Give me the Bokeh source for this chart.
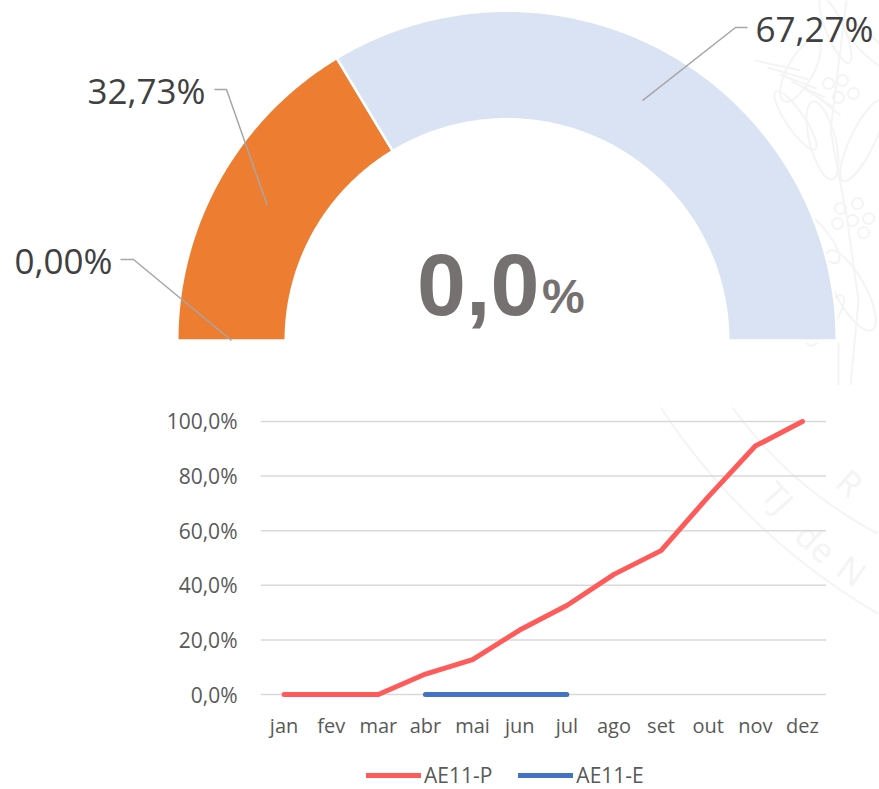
from bokeh.plotting import figure
from bokeh.models import Range1d, Legend, LegendItem, FixedTicker, CustomJSTickFormatter, HTMLLabel
from bokeh.core.properties import value
from bokeh.embed import file_html
from bokeh.resources import INLINE
import math

months = ["jan","fev","mar","abr","mai","jun","jul","ago","set","out","nov","dez"]
planned = [0, 0, 0, 7.5, 12.8, 23.6, 32.6, 44, 52.7, 72.4, 91, 100]
executed = [0, 0, 0, 0]
executed_months = ["abr", "mai", "jun", "jul"]
gauge_values = [0.0, 32.73, 67.27]
gauge_colors = ["#4472C4", "#ED7D31", "#DAE3F3"]
yticks = [0, 20, 40, 60, 80, 100]
FONT = "Open Sans"
W, H1, H2, H3 = 879, 385, 365, 39
WM = "#F4F4F4"

# ---- gauge (pixel-like coordinates: y measured from page top)
top = figure(width=W, height=H1, output_backend="svg", toolbar_location=None,
             x_range=Range1d(0, W), y_range=Range1d(H1, 0),
             min_border=0, outline_line_color=None)
top.axis.visible = False
top.grid.visible = False

# faint seal watermark, upper right
wm_leaves = [(800, 70, 26, 70, -0.5), (822, 140, 26, 80, 0.25), (862, 140, 24, 90, -0.45),
             (815, 235, 22, 70, 0.7), (850, 290, 30, 90, 0.5), (795, 120, 18, 70, 0.6),
             (835, 30, 18, 70, 0.4), (868, 45, 18, 70, 0.8), (825, 320, 18, 60, -0.6)]
for x, y, w, h, ang in wm_leaves:
    top.ellipse([x], [y], width=w, height=h, angle=ang, fill_color=None, line_color=WM, line_width=2)
wm_berries = [(828, 83), (838, 97), (853, 93), (842, 80), (840, 208), (857, 203),
              (868, 218), (852, 220), (837, 223), (863, 232)]
top.scatter([b[0] for b in wm_berries], [b[1] for b in wm_berries], size=11, fill_color=None,
            line_color=WM, line_width=2)
for k in range(6):
    top.line([755 + 12 * k, 800 + 8 * k], [60 + 7 * k, 70 + 9 * k], line_color=WM, line_width=2)
top.line([846, 830, 846, 858, 850], [0, 130, 215, 300, 385], line_color=WM, line_width=2)
top.line([838, 838], [340, 385], line_color=WM, line_width=2)

cx, cy, R_out, R_in = 506.5, 340.0, 329.75, 221.25
R_mid = (R_out + R_in) / 2
cum = 0.0
anchors = []
for v, c in zip(gauge_values, gauge_colors):
    a0 = cum / 100 * math.pi
    a1 = (cum + v) / 100 * math.pi
    mid = (a0 + a1) / 2
    anchors.append((cx - R_mid * math.cos(mid), cy - R_mid * math.sin(mid)))
    if v > 0:
        n = 160
        th = [a0 + (a1 - a0) * i / n for i in range(n + 1)]
        xs = [cx - R_out * math.cos(t) for t in th] + [cx - R_in * math.cos(t) for t in reversed(th)]
        ys = [cy - R_out * math.sin(t) for t in th] + [cy - R_in * math.sin(t) for t in reversed(th)]
        top.patch(xs, ys, fill_color=c, line_color="white", line_width=2.5)
    cum += v
# re-cover the flat ends of the arc's stroke
top.line([cx - R_out - 3, cx + R_out + 3], [cy + 1.3, cy + 1.3], line_color="white", line_width=2.6)

elbows = [((133, 259), (120, 259), 112, 260, "right"),
          ((226, 89), (214, 89), 205, 90, "right"),
          ((735, 27), (747, 27), 755, 28, "left")]
for v, (ax, ay), (e1, e2, tx, ty, al) in zip(gauge_values, anchors, elbows):
    top.line([ax, e1[0], e2[0]], [ay, e1[1], e2[1]], line_color="#A6A6A6", line_width=1.5)
    top.text([tx], [ty], text=[f"{v:.2f}%".replace(".", ",")], text_font=value(FONT),
             text_font_size="35px", text_color="#404040", text_align=al, text_baseline="middle")

top.add_layout(HTMLLabel(x=417, y=285, text="0,0", text_font=FONT, text_font_style="bold",
                         text_font_size="88px", text_color="#767171", text_align="left", text_baseline="middle"))
top.add_layout(HTMLLabel(x=542, y=296, text="%", text_font=FONT, text_font_style="bold",
                         text_font_size="48px", text_color="#767171", text_align="left", text_baseline="middle"))

# ---- line chart
STEP = 47.17
xi = {m: i for i, m in enumerate(months)}
pad = 5.128
bot = figure(width=W, height=H2, output_backend="svg", toolbar_location=None,
             x_range=Range1d(-0.5, (879 - 283) / STEP),
             y_range=Range1d(-pad, 100 + pad),
             min_border_left=260, min_border_right=0, min_border_top=22, min_border_bottom=42,
             outline_line_color=None)

# faint seal watermark, lower right (ribbon + lettering)
px = lambda x: -0.5 + (x - 260) / STEP
py = lambda y: (694 - y) / 2.73
def arc3(p1, p2, p3, n=40):
    (ax_, ay_), (bx_, by_), (cx_, cy_) = p1, p2, p3
    d = 2 * (ax_ * (by_ - cy_) + bx_ * (cy_ - ay_) + cx_ * (ay_ - by_))
    ux = ((ax_**2 + ay_**2) * (by_ - cy_) + (bx_**2 + by_**2) * (cy_ - ay_) + (cx_**2 + cy_**2) * (ay_ - by_)) / d
    uy = ((ax_**2 + ay_**2) * (cx_ - bx_) + (bx_**2 + by_**2) * (ax_ - cx_) + (cx_**2 + cy_**2) * (bx_ - ax_)) / d
    r = math.hypot(ax_ - ux, ay_ - uy)
    t0, t1 = math.atan2(ay_ - uy, ax_ - ux), math.atan2(cy_ - uy, cx_ - ux)
    ts = [t0 + (t1 - t0) * i / n for i in range(n + 1)]
    return [ux + r * math.cos(t) for t in ts], [uy + r * math.sin(t) for t in ts]
for pts in [((658, 403), (773, 537), (878, 613)), ((723, 393), (803, 483), (878, 533))]:
    ax_, ay_ = arc3(*pts)
    bot.line([px(a) for a in ax_], [py(a) for a in ay_], line_color=WM, line_width=2)
wm_letters = [("TJ", 778, 497, -48), ("de", 816, 542, -42), ("N", 852, 570, -35), ("R", 850, 482, -42)]
for t, x, y, d in wm_letters:
    bot.text([px(x)], [py(y)], text=[t], angle=[math.radians(d)], text_font=value(FONT),
             text_font_size="34px", text_color=WM,
             text_align="center", text_baseline="middle")

bot.xgrid.visible = False
bot.ygrid.visible = False
bot.segment([-0.5] * len(yticks), yticks, [11.5] * len(yticks), yticks,
            line_color="#D9D9D9", line_width=1.5)
bot.xaxis.ticker = FixedTicker(ticks=list(range(len(months))))
bot.xaxis.major_label_overrides = {i: m for i, m in enumerate(months)}
bot.yaxis.ticker = FixedTicker(ticks=yticks)
bot.yaxis.formatter = CustomJSTickFormatter(code="return tick.toFixed(1).replace('.', ',') + '%';")
for ax in (bot.xaxis[0], bot.yaxis[0]):
    ax.axis_line_color = None
    ax.major_tick_line_color = None
    ax.minor_tick_line_color = None
    ax.major_tick_out = 0
    ax.major_tick_in = 0
    ax.major_label_text_font = FONT
    ax.major_label_text_font_size = "20px"
    ax.major_label_text_color = "#595959"
bot.yaxis[0].major_label_text_font_size = "21px"
bot.yaxis.major_label_standoff = 23
bot.xaxis.major_label_standoff = 3

P_COLOR, E_COLOR = "#FF5B5B", "#4472C4"
bot.line(list(range(len(months))), planned, line_color=P_COLOR, line_width=5,
         line_cap="round", line_join="round")
bot.line([xi[m] for m in executed_months], executed, line_color=E_COLOR, line_width=5, line_cap="round")

# ---- legend strip (its lines lie outside the strip's range, only the key shows)
leg = figure(width=W, height=H3, output_backend="svg", toolbar_location=None,
             x_range=Range1d(0, 1), y_range=Range1d(0, 1), min_border=0, outline_line_color=None)
leg.axis.visible = False
leg.grid.visible = False
r1 = leg.line([2, 3], [2, 2], line_color=P_COLOR, line_width=5, line_cap="round")
r2 = leg.line([2, 3], [3, 3], line_color=E_COLOR, line_width=5, line_cap="round")
legend = Legend(items=[LegendItem(label="AE11-P", renderers=[r1]), LegendItem(label="AE11-E", renderers=[r2])],
                orientation="horizontal", location=(366, 0), border_line_color=None,
                background_fill_alpha=0, glyph_width=55, glyph_height=20, spacing=26,
                label_text_font=FONT, label_text_font_size="21px", label_text_color="#595959",
                label_standoff=3, margin=0, padding=0)
leg.add_layout(legend)

open("out.html", "w").write(file_html((top, bot, leg), INLINE))
